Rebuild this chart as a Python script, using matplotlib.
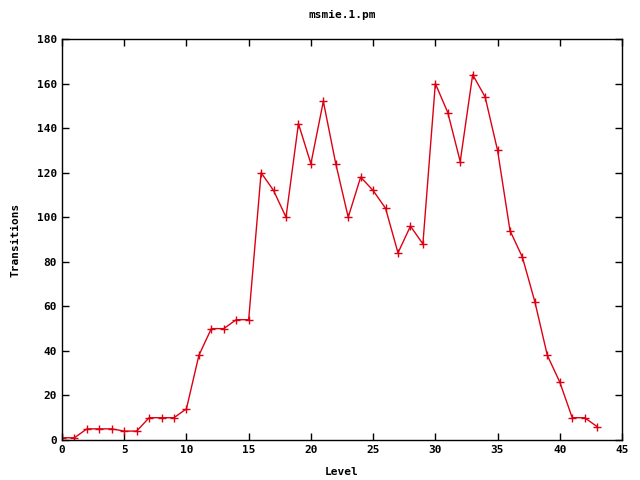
import matplotlib
matplotlib.use("Agg")
from matplotlib import pyplot as plt

plt.rcParams["font.family"] = ["DejaVu Sans Mono"]
plt.rcParams["font.weight"] = "bold"
plt.rcParams["font.size"] = 8

levels = list(range(44))
transitions = [1, 1, 5, 5, 5, 4, 4, 10, 10, 10, 14, 38, 50, 50, 54, 54,
               120, 112, 100, 142, 124, 152, 124, 100, 118, 112, 104, 84,
               96, 88, 160, 147, 125, 164, 154, 130, 94, 82, 62, 38, 26,
               10, 10, 6]

fig = plt.figure(figsize=(6.4, 4.8), dpi=100)
ax = fig.add_axes([62/640, 1 - 440/480, 560/640, 401/480])

ax.plot(levels, transitions, color="#dd0011", linewidth=1, marker="+",
        markersize=6, markeredgewidth=1)

ax.set_xlim(0, 45)
ax.set_ylim(0, 180)
ax.set_xticks(range(0, 46, 5))
ax.set_yticks(range(0, 181, 20))
ax.tick_params(direction="in", top=True, right=True, length=5, width=1)
for s in ax.spines.values():
    s.set_linewidth(1)

ax.set_title("msmie.1.pm", pad=15, fontweight="bold", fontsize=8)
ax.set_xlabel("Level", fontweight="bold", labelpad=9)
ax.set_ylabel("Transitions", fontweight="bold", labelpad=12)

plt.savefig("out.png")
